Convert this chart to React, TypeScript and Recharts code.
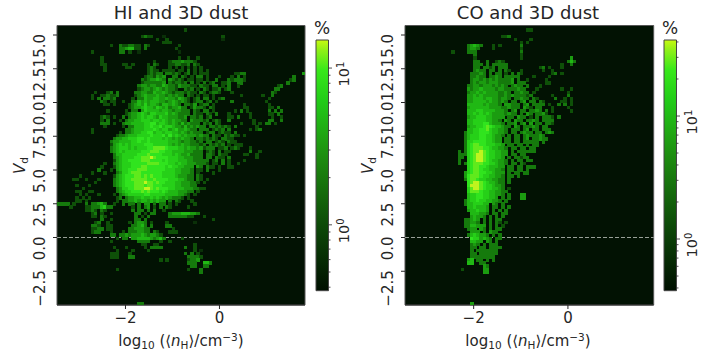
import React from "react";
import {
  ScatterChart,
  Scatter,
  XAxis,
  YAxis,
  ReferenceArea,
  ReferenceLine,
} from "recharts";

// each row is a histogram row from top to bottom, written as "startColumn:levels"
// levels are colour steps, "." is an empty cell
const hiRows = [
  "", "41:2", "", "27:2322 34:1 53:2", "32:2 35:2 53:1", "34:22 36:2",
  "17:2 20:3223322.32 39:2", "20:3345522.3 38:2", "11:2 20:33 23:2 26:1 39:1", "",
  "14:2 39:2 42:2 45:2", "14:2 31:2 36:233343332", "14:22 21:22 24:2 29:2.32 36:2233223.3 45:2",
  "15:2 22:22 29:232 36:2.2.2 42:2.2 46:2", "15:2 29:2322 34:2222.22.3 44:2.2 48:2",
  "29:23233 35:33232.23 44:2.22 48:2 57:2233 79:4", "28:2332434 37:33 40:32.2.3 46:3.2 52:2 56:2.3.2 76:3",
  "27:32344543 36:43232 42:22.22 48:2 51:3 55:323332 75:23", "27:233333 33:34.32332 41:3 43:3.2 47:3.23 53:223 58:33 74:3",
  "26:3443 30:4433543 37:3243 41:3322.3 46:322.33.2 55:3 58:2 71:23", "26:2344345434332 41:323.2.32.223.23 70:33",
  "12:2 16:23.3 25:33443354454 36:3233 40:32322.32.2332 56:2 69:32",
  "11:2 14:223223 25:2345444 32:5443 36:4343 40:3.32.2.22.2 59:2 66:2 69:3",
  "11:2 13:3.3323 24:2.33544554455 36:4435432.23.33.2.23 68:2",
  "14:32.22 21:2 24:33545455544345 38:4 39:3432.233.23.2 56:3 67:2",
  "15:22 18:2 23:2345 27:4645543 34:5545 38:43.3324.233.2 60:2 68:2",
  "23:23445655465 34:453445 40:33.24332.32 60:22 68:22.3",
  "16:2 22:2 24:33.465555456 35:5434 39:4333.32.33.2 57:2.3 61:2 68:3.3 72:3",
  "22:234 25:45654665556 36:4543 40:333.322.32.3 55:2 62:2 68:22 71:3",
  "14:232.2 21:3.344565 28:5665465 35:5444334.3323.23 55:22 58:3 62:2 69:2 72:2",
  "14:2.3 20:2.3445 26:5666566 33:56545 38:4433.433323.232 55:3 63:2 68:33 72:3",
  "14:333.2 21:344555 27:5667756 34:6545 38:43534 43:333.323.32 59:2 63:2.2 67:33.2",
  "15:2 21:2.3355566 29:6766 33:756 36:6544 40:353434 46:33.3323232.3 64:2",
  "11:2 22:33455566 30:6765 34:66456 39:4 40:4543 44:3.333.2323.3 62:2.23",
  "11:2 20:2 22:3345566 29:7756 33:6566 37:554 40:5 41:434333.233.2322.3",
  "19:23345 24:5566667666 34:757 37:5654 41:544 44:4343 48:3.322.32322.2",
  "18:3445566 25:6776 29:76 31:666 34:5654 38:5 39:4 40:544 43:3.3323232.3322",
  "17:34455 22:55667 27:667666 33:666 36:55 38:5434 42:4 43:3323.33.232.322",
  "17:2456565 24:66667776 32:666 35:6545 39:45 41:4433323.32323.2.222",
  "17:34566656 25:56 27:667788887 36:6665 40:54 42:54 44:4342333.223.232 62:2",
  "17:34565666 25:66 27:7778887 34:7665 38:55 40:5 41:44 43:4333.232.3.22 62:3 65:2",
  "18:3556666 25:6777 29:87777 34:666 37:5 38:65 40:44 42:533 45:33.332.322 60:22 64:2",
  "18:3456666 25:77888 30:987777 36:66 38:65 40:544 43:4333.33.322.3 64:2",
  "18:2456677 25:77888 30:7777 34:6766 38:6555 42:44 44:33333.23 53:3.2 60:2",
  "15:2 18:34566677 26:77788887 34:7766 38:5655 42:44 44:4333 48:2.22.3 55:2 58:2",
  "14:2 18:2456667 25:77887777 33:7767 37:665 40:54 42:44.43.322.2 55:22",
  "13:3 17:2 19:4566777 26:888777 32:7776 36:6655 40:4443.22.3 52:2",
  "11:2 15:2 19:346678887777777666655444 43:3.2 50:2", "7:2 18:24567778878787776666544433.32",
  "5:22 9:2 13:2 18:34567788888778777766655433.32 46:2.2", "12:2 18:3456777888988787766655444332.2",
  "6:2 10:2 18:345677788878877766665544433", "8:2 19:34667788899878777665554443322",
  "6:22 10:22 19:3456677787877767655544433.2", "7:2 9:2 13:2 18:2.34566666776666655554432.2",
  "6:2 8:2.2 19:23.3445565565654543332.2", "6:22 9:2 19:2.33445455454544.3.32 43:2",
  "0:3333 5:2 9:3.33 13:453 18:2 21:3 23:33.3.44.3.33.2.2 44:2", "4:2 9:223335633 24:2.3.34.2.3.3 36:2 42:2",
  "9:2232.3 15:2 24:3.33.3.3 34:2", "11:23.2 17:2 25:33.2.33 36:3444555443",
  "11:22 14:32 25:3.2.3 36:33333322 47:2", "14:3 17:2 25:33.3 50:2", "12:23 16:2 23:2 25:3443.2 35:2 44:1",
  "11:332 16:22 24:33453.3 35:33", "11:2233 16:22 23:3344433 37:2", "11:233 17:2 21:2 23:3334433.32 36:22 38:2",
  "17:33 20:33 22:4 23:3444543443 33:2", "19:2 21:33 24:4455554345 34:3 40:2", "17:2 26:3333 33:2 36:2",
  "27:22 31:22 44:2", "18:2 22:2 28:2 30:3333 41:3 44:2", "19:2 24:2 29:2 44:2 46:1", "17:22 19:2 23:2 41:3 43:3.2",
  "17:222 23:33 42:33333 46:2", "33:2 35:2 42:2334", "42:333 47:553", "43:33 47:33", "19:2 42:2 46:3", "46:3",
  "", "", "", "", "", "", "", "", "", "26:33",
];

const coRows = [
  "", "39:22", "", "31:223", "35:2 40:2", "37:2 39:2", "20:34543 28:2 30:2 37:3", "20:3443 28:2 37:2",
  "15:2 20:333 37:3", "22:3 37:2", "22:2 37:2 53:4", "22:33 26:3 29:232 52:353", "22:333.3.33333 50:2 53:3",
  "22:33.3323.333 43:23 46:2 50:2", "22:3433.33.3.32 37:2 44:2 47:2", "21:33343.3.33.2 34:3.3 37:2 47:23 50:2",
  "21:33433.3343.33333 41:2 46:2", "21:34434343433334.3 39:2 45:2", "21:34344344433334.333 45:22",
  "20:3344344434343.3433.3 43:2", "20:4344544443443333433 42:2 50:2 53:2", "20:34454544443343.33433.2 52:2",
  "20:445454444433434333323 47:2 52:3", "20:44555455443443.33433.32 48:3 51:2 53:2",
  "20:44555 25:545 28:4434 32:3.33.34.33.32 50:22 53:2", "20:55555454 28:443.44 34:333.34.3333.2 49:3 51:3 53:2",
  "20:4555 24:5554 28:44 30:43343 35:33.432.33 47:2 52:2", "20:5556 24:6555 28:54 30:443.3 35:4.33.3343.3 47:2 53:2",
  "20:5565 24:6565 28:4 29:4443 33:4 34:33.3.43.3343 45:2", "20:4556 24:6655 28:4444 32:.33.433.2.3.3332.3",
  "20:5566 24:6655 28:443.4 33:3.433.3343.3333", "20:55666 25:7754 29:443.33 35:4.34.4.33.332",
  "20:4556 24:67 26:876 29:5543 33:3.43.33343.33 44:33", "20:5566 24:7786 28:554 31:43.333.34.33.333 44:3",
  "19:355667 25:7765 29:5443.33.3433.33.343", "19:3566 23:67766 28:54 30:43.3.33.343.33 41:3343",
  "19:3566 23:67766 28:5 29:44.33.33.34.33433", "19:3667 23:77766 28:54 30:4.33.33.33333.3",
  "19:3678877 26:6665 30:54.33.33.3.33", "19:3678887 26:765 29:5443.33.33.33 40:3",
  "17:3.3678898 26:7665 30:544.3.33333 38:3333", "17:33 19:36789 24:987 27:665 30:544.33.33",
  "17:33.3 20:6789 24:987 27:66 29:554.3.33.33 37:2", "17:3 20:6789 24:98 26:76 28:55 30:443.3.33.33",
  "17:3 19:36788 24:87 26:76 28:65 30:443.33.33 38:2", "20:678 23:877 26:655 29:544.33.33.333",
  "20:678 23:8766 27:55 29:443.33.33.3", "19:4678 23:8776 27:65444.3.33.33", "19:4788 23:8766 27:55 29:443.33.3",
  "19:3788 23:7665 27:54 29:433.3", "20:7899 24:8765 28:5433.3 33:3", "20:7999 24:876 27:6544 31:3",
  "20:6899 24:8766 28:5543.3 33:2", "20:6888 24:766 27:554433",
  "20:566776655443.3 37:44", "20:5667766554.3.3 37:44", "19:356676655443.3", "19:35566655.43.3", "20:5565554.33.3.3",
  "20:4556554.3.3.3", "21:555443.33.33", "21:45443.3.3.3", "19:33454.3.3.33", "19:33 21:443.3.3.3 30:2 32:2",
  "19:33 21:55444.3.3.3 31:2", "20:344.43.3.33 30:3", "21:444.3.43 29:3", "20:3565443.3.3", "21:7664543.33",
  "21:5544.43.3", "21:343.3.33 27:3 29:3", "21:33.33.333 28:3.3", "21:3.3333333", "21:33 24:33333 29:3",
  "21:33333333", "20:45.3 24:3.3.3", "20:55 24:33", "25:43", "18:2 25:44", "25:44",
  "", "", "", "", "", "", "", "", "", "21:4",
];

const xTicks = [-2, 0];
const yTicks = [-2.5, 0, 2.5, 5, 7.5, 10, 12.5, 15];
const hiBarTicks = [0.4, 0.5, 0.6, 0.7, 0.8, 0.9, 1, 2, 3, 4, 5, 6, 7, 8, 9, 10];
const coBarTicks = [0.4, 0.5, 0.6, 0.7, 0.8, 0.9, 1, 2, 3, 4, 5, 6, 7, 8, 9, 10, 20, 30, 40];
const levelColors = ["#021203", "#0a3008", "#0e5008", "#157a0c", "#1b9c10", "#20b814", "#26d018", "#30e41e", "#60ea1c", "#c0f41e"];

const X_DOMAIN = [-3.457, 1.82];
const Y_DOMAIN = [-5.0, 15.704];
const COLS = 80;
const ROWS = 90;
const CELL = 3.4;
const FONT = "'DejaVu Sans', sans-serif";
const INK = "#262626";

function buildCells(rows: string[]) {
  const dx = (X_DOMAIN[1] - X_DOMAIN[0]) / COLS;
  const dy = (Y_DOMAIN[1] - Y_DOMAIN[0]) / ROWS;
  const cells: { x: number; y: number; level: number }[] = [];
  rows.forEach((row, r) => {
    if (!row) return;
    row.split(" ").forEach((seg) => {
      const [start, levels] = seg.split(":");
      [...levels].forEach((ch, i) => {
        if (ch === ".") return;
        const col = Number(start) + i;
        if (col >= COLS) return;
        cells.push({
          x: X_DOMAIN[0] + (col + 0.5) * dx,
          y: Y_DOMAIN[1] - (r + 0.5) * dy,
          level: Number(ch),
        });
      });
    });
  });
  return cells;
}

function CellShape(props: any) {
  const level = props.level ?? props.payload?.level ?? 0;
  return (
    <rect
      x={props.cx - CELL / 2}
      y={props.cy - CELL / 2}
      width={CELL}
      height={CELL}
      fill={levelColors[level]}
      shapeRendering="crispEdges"
    />
  );
}

function YTick({ x, y, payload }: any) {
  const label = payload.value.toFixed(1).replace("-", "\u2212");
  return (
    <g>
      <line x1={x} x2={x + 4} y1={y} y2={y} stroke={INK} strokeWidth={1} />
      <text
        transform={`translate(${x - 8},${y - 1}) rotate(-90)`}
        textAnchor="end"
        fontSize={15}
        fontFamily={FONT}
        fill={INK}
      >
        {label}
      </text>
    </g>
  );
}

function BarTick({ x, y, payload }: any) {
  const v = payload.value;
  const major = v === 1 || v === 10;
  return (
    <g>
      <line x1={x} x2={x + (major ? 3.5 : 2)} y1={y} y2={y} stroke={INK} strokeWidth={0.8} />
      {major && (
        <text
          transform={`translate(${x + 20.5},${y + 18.5}) rotate(-90)`}
          fontSize={14.5}
          fontFamily={FONT}
          fill={INK}
        >
          10
          <tspan fontSize={10} dy={-5.5}>
            {v === 1 ? "0" : "1"}
          </tspan>
        </text>
      )}
    </g>
  );
}

function Panel({ left, rows, title, marginLeft, marginRight, titleX, labelX, ylabelX }: any) {
  const cells = buildCells(rows);
  return (
    <div style={{ position: "absolute", left, top: 0 }}>
      <ScatterChart
        width={360}
        height={356}
        margin={{ top: 25.5, right: marginRight, bottom: 0, left: 0 }}
      >
        <XAxis
          type="number"
          dataKey="x"
          domain={X_DOMAIN}
          ticks={xTicks}
          allowDataOverflow
          height={51}
          tickSize={4}
          tickMargin={3}
          stroke={INK}
          tick={{ fontSize: 15, fontFamily: FONT, fill: INK }}
          tickFormatter={(v: number) => String(v).replace("-", "\u2212")}
        />
        <YAxis
          type="number"
          dataKey="y"
          domain={Y_DOMAIN}
          ticks={yTicks}
          allowDataOverflow
          width={marginLeft}
          tickSize={0}
          tickMargin={0}
          axisLine={false}
          tickLine={false}
          tick={(p: any) => <YTick x={marginLeft - 4} y={p.y} payload={p.payload} />}
        />
        <ReferenceArea
          x1={X_DOMAIN[0]}
          x2={X_DOMAIN[1]}
          y1={Y_DOMAIN[0]}
          y2={Y_DOMAIN[1]}
          fill={levelColors[0]}
          fillOpacity={1}
          stroke="#555"
        />
        <Scatter data={cells} shape={CellShape} isAnimationActive={false} />
        <ReferenceLine y={0} stroke="#98a098" strokeWidth={1.2} strokeDasharray="4 2" />
        <text x={titleX} y={19} textAnchor="middle" fontSize={18} fontFamily={FONT} fill={INK}>
          {title}
        </text>
        <text x={labelX} y={346} textAnchor="middle" fontSize={15} fontFamily={FONT} fill={INK}>
          log
          <tspan fontSize={10.5} dy={3}>10</tspan>
          <tspan dy={-3}> (⟨</tspan>
          <tspan fontStyle="italic">n</tspan>
          <tspan fontSize={10.5} dy={3}>H</tspan>
          <tspan dy={-3}>⟩/cm</tspan>
          <tspan fontSize={10.5} dy={-5}>{"\u22123"}</tspan>
          <tspan dy={5}>)</tspan>
        </text>
        <text
          transform={`translate(${ylabelX},174) rotate(-90)`}
          fontSize={15}
          fontFamily={FONT}
          fill={INK}
        >
          <tspan fontStyle="italic">V</tspan>
          <tspan fontSize={10.5} dy={3}>d</tspan>
        </text>
      </ScatterChart>
    </div>
  );
}

function ColorBar({ left, top, domain, ticks, id }: any) {
  return (
    <div style={{ position: "absolute", left, top: 0 }}>
      <ScatterChart width={60} height={356} margin={{ top, right: 0, bottom: 65.3, left: 16 }}>
        <defs>
          <linearGradient id={id} x1="0" y1="1" x2="0" y2="0">
            <stop offset="0" stopColor="#001000" />
            <stop offset="0.26" stopColor="#0d4a08" />
            <stop offset="0.54" stopColor="#1e8e10" />
            <stop offset="0.76" stopColor="#22cc18" />
            <stop offset="0.88" stopColor="#38e81a" />
            <stop offset="0.96" stopColor="#90f018" />
            <stop offset="1" stopColor="#c8fa10" />
          </linearGradient>
        </defs>
        <XAxis type="number" dataKey="x" domain={[0, 1]} allowDataOverflow hide />
        <YAxis
          type="number"
          dataKey="y"
          orientation="right"
          scale="log"
          domain={domain}
          ticks={ticks}
          allowDataOverflow
          width={31.5}
          tickSize={0}
          tickMargin={0}
          axisLine={false}
          tickLine={false}
          interval={0}
          tick={(p: any) => <BarTick x={28.5} y={p.y} payload={p.payload} />}
        />
        <ReferenceArea
          x1={0}
          x2={1}
          y1={domain[0]}
          y2={domain[1]}
          ifOverflow="visible"
          fill={`url(#${id})`}
          fillOpacity={1}
          stroke="#444"
        />
        <text x={22} y={34} textAnchor="middle" fontSize={17} fontFamily={FONT} fill={INK}>
          %
        </text>
      </ScatterChart>
    </div>
  );
}

export default function App() {
  return (
    <div style={{ position: "absolute", left: 0, top: 0, width: 720, height: 356, background: "#fff" }}>
      <Panel left={0} rows={hiRows} title="HI and 3D dust" marginLeft={57} marginRight={55} titleX={181} labelX={181} ylabelX={25} />
      <Panel left={348} rows={coRows} title="CO and 3D dust" marginLeft={57} marginRight={54.3} titleX={180} labelX={180} ylabelX={25} />
      <ColorBar left={300} top={40} domain={[0.38, 15.1]} ticks={hiBarTicks} id="barHi" />
      <ColorBar left={648} top={40} domain={[0.38, 41.5]} ticks={coBarTicks} id="barCo" />
    </div>
  );
}
